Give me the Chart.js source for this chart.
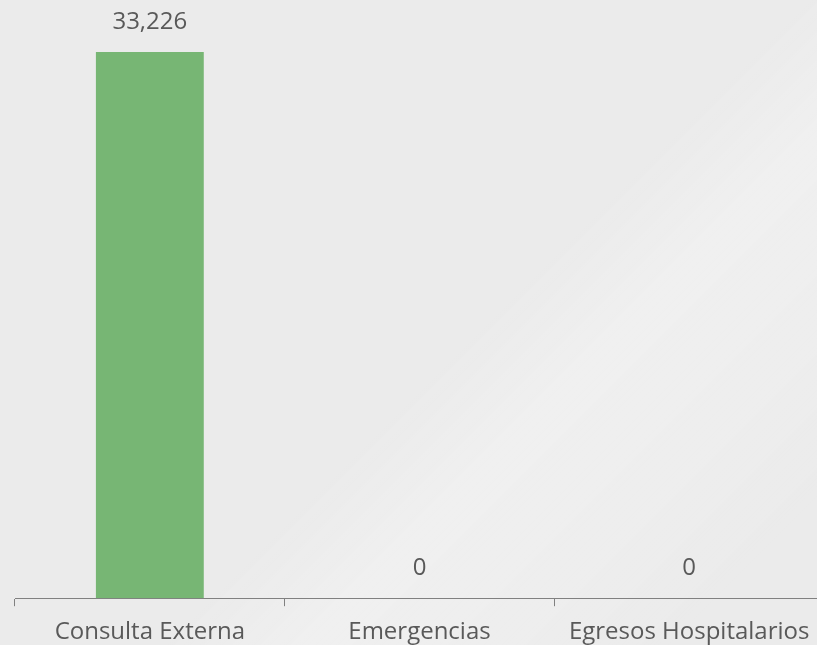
<!DOCTYPE html>
<html>
<head>
<meta charset="utf-8">
<script src="https://cdn.jsdelivr.net/npm/chart.js@4"></script>
<style>
  html, body { margin: 0; padding: 0; overflow: hidden; width: 817px; height: 645px; }
  body { background: #ebebeb; background-image: linear-gradient(135deg, rgba(255,255,255,0) 55%, rgba(255,255,255,0.25) 65%, rgba(255,255,255,0.15) 78%, rgba(255,255,255,0) 90%); }
  #wrap { position: absolute; left: 0; top: 0; width: 824px; height: 645px; }
</style>
</head>
<body>
<div id="wrap"><canvas id="c" width="824" height="645"></canvas></div>
<script>
const categories = ["Consulta Externa", "Emergencias", "Egresos Hospitalarios"];
const values = [33226, 0, 0];

const FONT = "'Open Sans', 'DejaVu Sans', sans-serif";
const TEXT = "#595959";

const valueLabels = {
  id: "valueLabels",
  afterDatasetsDraw(chart) {
    const ctx = chart.ctx;
    const meta = chart.getDatasetMeta(0);
    ctx.save();
    ctx.font = "24px " + FONT;
    ctx.fillStyle = TEXT;
    ctx.textAlign = "center";
    ctx.textBaseline = "middle";
    meta.data.forEach((bar, i) => {
      ctx.fillText(values[i].toLocaleString("en-US"), bar.x, bar.y - 30);
    });
    ctx.restore();
  }
};

new Chart(document.getElementById("c"), {
  type: "bar",
  data: {
    labels: categories,
    datasets: [{
      data: values,
      backgroundColor: "#77b674",
      borderWidth: 0,
      barPercentage: 0.4,
      categoryPercentage: 1.0
    }]
  },
  options: {
    responsive: false,
    animation: false,
    layout: { padding: { left: 15, right: 0, top: 52, bottom: -14 } },
    plugins: { legend: { display: false }, tooltip: { enabled: false } },
    scales: {
      x: {
        offset: true,
        grid: { display: true, drawOnChartArea: false, drawTicks: true, tickLength: 8, color: "#808080", offset: true },
        border: { display: true, color: "#808080", width: 1 },
        ticks: { color: TEXT, font: { family: FONT, size: 24 }, padding: 12, maxRotation: 0, autoSkip: false }
      },
      y: {
        display: false,
        min: 0,
        max: 33226
      }
    }
  },
  plugins: [valueLabels]
});
</script>
</body>
</html>
